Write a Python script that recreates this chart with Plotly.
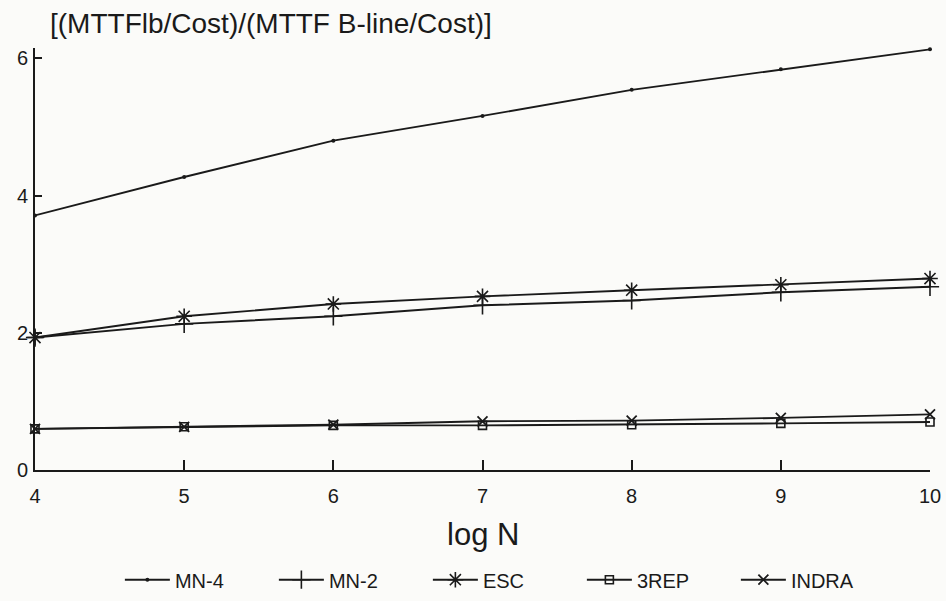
import plotly.graph_objects as go

# ---- data ----
log_n = [4, 5, 6, 7, 8, 9, 10]
mn4 = [3.71, 4.27, 4.80, 5.16, 5.54, 5.84, 6.13]
mn2 = [1.93, 2.13, 2.24, 2.40, 2.47, 2.59, 2.67]
esc = [1.93, 2.24, 2.42, 2.53, 2.62, 2.70, 2.79]
rep3 = [0.60, 0.63, 0.65, 0.65, 0.66, 0.68, 0.70]
indra = [0.60, 0.63, 0.66, 0.71, 0.72, 0.76, 0.81]

series_names = ["MN-4", "MN-2", "ESC", "3REP", "INDRA"]
series_values = [mn4, mn2, esc, rep3, indra]
x_ticks = [4, 5, 6, 7, 8, 9, 10]
y_ticks = [0, 2, 4, 6]

y_title = "[(MTTFlb/Cost)/(MTTF B-line/Cost)]"
x_title = "log N"

FONT = "Liberation Sans, Arial, sans-serif"
INK = "#1a1a1a"

markers = [
    dict(symbol="circle", size=4, color=INK),
    dict(symbol="cross-thin", size=13, color=INK, line=dict(width=1.6, color=INK)),
    dict(symbol="asterisk", size=13, color=INK, line=dict(width=1.6, color=INK)),
    dict(symbol="square-open", size=8, color=INK, line=dict(width=1.6, color=INK)),
    dict(symbol="x-thin", size=10, color=INK, line=dict(width=1.8, color=INK)),
]

fig = go.Figure()
for name, vals, mk in zip(series_names, series_values, markers):
    fig.add_trace(go.Scatter(
        x=log_n, y=vals, name=name, mode="lines+markers",
        line=dict(color=INK, width=1.9),
        marker=mk, cliponaxis=False,
    ))

fig.update_layout(
    width=946, height=601,
    margin=dict(l=35, r=16, t=48, b=131, autoexpand=False),
    paper_bgcolor="#fbfbf9", plot_bgcolor="#fbfbf9",
    font=dict(family=FONT, color=INK, size=19),
    showlegend=True,
    legend=dict(
        orientation="h", x=0.525, xanchor="center", y=-0.26, yanchor="middle",
        font=dict(size=20), itemwidth=45, entrywidth=94,
        bgcolor="rgba(0,0,0,0)",
    ),
    xaxis=dict(
        range=[4, 10], tickvals=x_ticks, ticktext=[str(t) for t in x_ticks],
        showline=True, linecolor=INK, linewidth=2,
        ticks="inside", ticklen=10, tickwidth=1.5, tickcolor=INK,
        showgrid=False, zeroline=False, ticklabelstandoff=7,
        tickfont=dict(size=20), automargin=False,
    ),
    yaxis=dict(
        range=[0, 6.15], tickvals=y_ticks, ticktext=[str(t) for t in y_ticks],
        showline=True, linecolor=INK, linewidth=2,
        ticks="inside", ticklen=7, tickwidth=1.5, tickcolor=INK,
        showgrid=False, zeroline=False, ticklabelstandoff=1,
        tickfont=dict(size=20), automargin=False,
    ),
    annotations=[
        dict(text=y_title, xref="paper", yref="paper", x=0.0144, y=1.057,
             xanchor="left", yanchor="middle", showarrow=False,
             font=dict(size=28, family=FONT, color=INK)),
        dict(text=x_title, xref="paper", yref="paper", x=0.5, y=-0.154,
             xanchor="center", yanchor="middle", showarrow=False,
             font=dict(size=31, family=FONT, color=INK)),
    ],
)

fig.write_html("out.html", config={"displayModeBar": False},
               post_script="document.body.style.margin='0';")
